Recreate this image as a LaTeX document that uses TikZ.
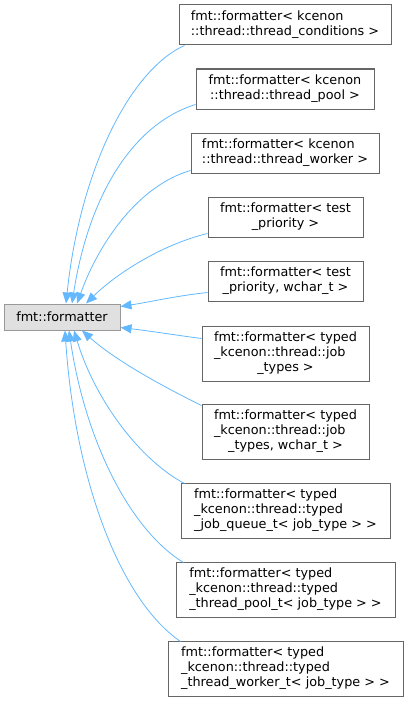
\documentclass[tikz,border=0pt]{standalone}
\usepackage{fontspec}
\setmainfont{DejaVu Sans}
\usetikzlibrary{arrows.meta,calc}
\definecolor{edgeblue}{HTML}{63B8FF}
\definecolor{boxborder}{HTML}{666666}
\definecolor{baseborder}{HTML}{999999}
\definecolor{basefill}{HTML}{E0E0E0}
\newcommand\twolines[2]{\begin{tabular}{@{}l@{}}#1\\\multicolumn{1}{@{}c@{}}{#2}\end{tabular}}
\newcommand\threelines[3]{\begin{tabular}{@{}l@{}}#1\\#2\\\multicolumn{1}{@{}c@{}}{#3}\end{tabular}}
\tikzset{
  classbox/.style={draw=boxborder, fill=white, line width=1pt, inner sep=0pt, align=center,
    font=\fontsize{12.8}{15}\selectfont},
  basebox/.style={draw=baseborder, fill=basefill, line width=1pt, inner sep=0pt,
    font=\fontsize{12.8}{15}\selectfont},
  inherit/.style={draw=edgeblue, line width=0.8pt, -{Triangle[length=11pt,width=9pt,fill=edgeblue]}},
}
\newcommand\boxat[6]{% name, x1,y1,x2,y2, text
  \node[classbox, minimum width={#4-#2}, minimum height={#5-#3}] (#1) at ({(#2+#4)/2},{(#3+#5)/2}) {#6};}
\begin{document}
\begin{tikzpicture}[x=1pt,y=-1pt]
\useasboundingbox (0,0) rectangle (408,701);
\node[basebox, minimum width=116, minimum height=26] (base) at (62,317) {fmt::formatter};
\boxat{n1}{179}{5}{391}{45}{\twolines{fmt::formatter< kcenon}{::thread::thread\_conditions >}}
\boxat{n2}{196}{69}{374}{109}{\twolines{fmt::formatter< kcenon}{::thread::thread\_pool >}}
\boxat{n3}{191}{133}{379}{173}{\twolines{fmt::formatter< kcenon}{::thread::thread\_worker >}}
\boxat{n4}{208}{197}{363}{237}{\twolines{fmt::formatter< test}{\_priority >}}
\boxat{n5}{208}{261}{363}{301}{\twolines{fmt::formatter< test}{\_priority, wchar\_t >}}
\boxat{n6}{202}{326}{369}{381}{\threelines{fmt::formatter< typed}{\_kcenon::thread::job}{\_types >}}
\boxat{n7}{202}{404}{369}{459}{\threelines{fmt::formatter< typed}{\_kcenon::thread::job}{\_types, wchar\_t >}}
\boxat{n8}{181}{483}{390}{538}{\threelines{fmt::formatter< typed}{\_kcenon::thread::typed}{\_job\_queue\_t< job\_type > >}}
\boxat{n9}{176}{562}{395}{617}{\threelines{fmt::formatter< typed}{\_kcenon::thread::typed}{\_thread\_pool\_t< job\_type > >}}
\boxat{n10}{168}{641}{403}{696}{\threelines{fmt::formatter< typed}{\_kcenon::thread::typed}{\_thread\_worker\_t< job\_type > >}}
% edges (drawn from derived class to base)
\draw[inherit] ($(n1.south west)+(6,0)$) .. controls (130,70) and (80,170) .. ($(base.north)+(4,0)$);
\draw[inherit] ($(n2.south west)+(0,-5)$) .. controls (130,125) and (88,200) .. ($(base.north)+(10,0)$);
\draw[inherit] ($(n3.south west)+(0,-3)$) .. controls (140,185) and (100,240) .. ($(base.north)+(15,0)$);
\draw[inherit] ($(n4.south west)+(0,-4)$) .. controls (160,245) and (115,275) .. ($(base.north)+(24,0)$);
\draw[inherit] ($(n5.south west)+(0,-9)$) .. controls (175,296) and (150,302) .. ($(base.north east)+(0,3)$);
\draw[inherit] ($(n6.north west)+(0,13)$) .. controls (175,335) and (150,331) .. ($(base.south east)+(0,-3)$);
\draw[inherit] ($(n7.north west)+(0,2)$) .. controls (160,385) and (115,360) .. ($(base.south)+(20,0)$);
\draw[inherit] ($(n8.north west)+(4,1)$) .. controls (140,460) and (95,400) .. ($(base.south)+(12,0)$);
\draw[inherit] ($(n9.north west)+(8,1)$) .. controls (130,530) and (85,440) .. ($(base.south)+(7,0)$);
\draw[inherit] ($(n10.north west)+(13,1)$) .. controls (120,600) and (75,480) .. ($(base.south)+(3,0)$);
\end{tikzpicture}
\end{document}
